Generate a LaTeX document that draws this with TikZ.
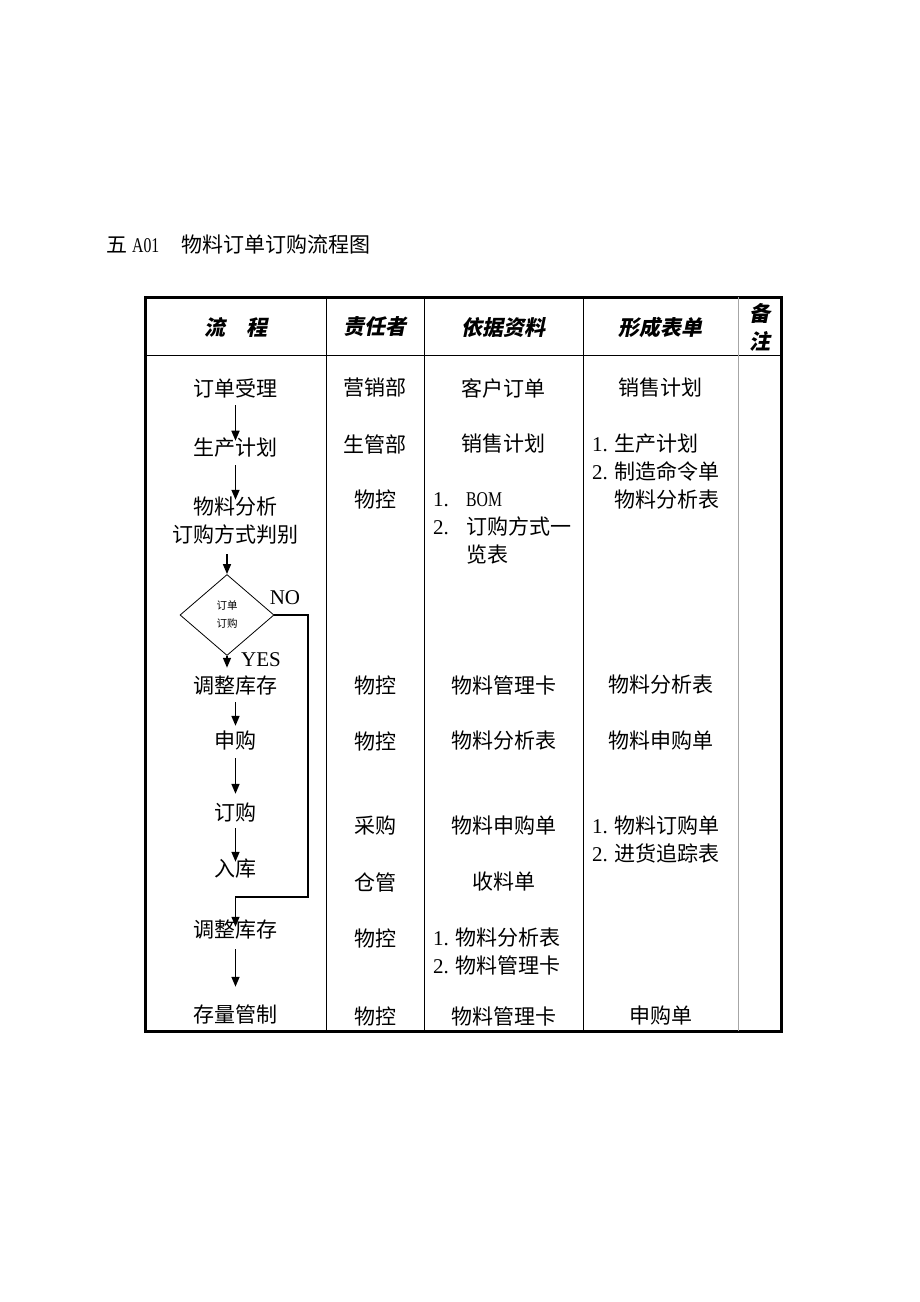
\documentclass[tikz,border=0pt]{standalone}
\usepackage{fontspec}
\setmainfont{Noto Sans CJK SC}
\newfontfamily\lat{Liberation Serif}
\newfontfamily\latn[FakeStretch=0.75]{Liberation Serif}
\newfontfamily\hdfont[FakeSlant=0.2]{Noto Sans CJK SC}
\usetikzlibrary{arrows.meta,shapes.geometric}

\begin{document}
\begin{tikzpicture}[x=1pt, y=-1pt, font=\fontsize{21}{28}\selectfont,
    flow/.style={-{Triangle[width=8pt,length=10pt]}, line width=1.6pt},
    gridline/.style={line width=0.9pt},
    frame/.style={line width=3pt},
    head/.style={font=\fontsize{21}{28}\hdfont\bfseries},
    lst/.style={anchor=west, align=left, inner sep=0pt}]

      % page size (pixels of the reference)
      \useasboundingbox (0,0) rectangle (920,1302);

      % column centres
      \def\cA{235.5}
      \def\cB{375}
      \def\cC{503.5}
      \def\cD{660.5}
      \def\cE{759.5}

      % title
      \node[anchor=west, inner sep=0pt] (title) at (106,245)
        {五\hspace{5pt}{\latn A01}\hspace{22pt}物料订单订购流程图};

      % table outline and rules
      \draw[frame] (145,297) rectangle (781,1031);
      \draw[gridline] (145,355) -- (781,355);
      \foreach \x in {326,424,583}
        \draw[gridline] (\x,297) -- (\x,1031);
      \draw[gridline, gray!70] (738,297) -- (738,1031);

      % header row
      \node[head] (h1) at (\cA,327) {流\hspace{21pt}程};
      \node[head] (h2) at (\cB,327) {责任者};
      \node[head] (h3) at (\cC,327) {依据资料};
      \node[head] (h4) at (\cD,327) {形成表单};
      \node[head, align=center] (h5) at (\cE,327) {备\\注};

      % flow steps
      \node (s1) at (\cA,388) {订单受理};
      \node (s2) at (\cA,448) {生产计划};
      \node[align=center] (s3) at (\cA,521) {物料分析\\订购方式判别};
      \node[diamond, draw, line width=0.8pt, aspect=1.16, minimum width=94pt,
            minimum height=81pt, inner sep=0pt, align=center,
            font=\fontsize{10.5}{18}\selectfont] (dec) at (227,615) {订单\\订购};
      \node (no) at (285,598) {\lat NO};
      \node (yes) at (261,660) {\lat YES};
      \node (s4) at (\cA,686) {调整库存};
      \node (s5) at (\cA,741) {申购};
      \node (s6) at (\cA,813) {订购};
      \node (s7) at (\cA,869) {入库};
      \node (s8) at (\cA,930) {调整库存};
      \node (s9) at (\cA,1014) {存量管制};

      % flow arrows
      \draw[flow, shorten <=4pt, shorten >=-6pt] (s1) -- (s2);
      \draw[flow, shorten <=4pt, shorten >=-6pt] (s2) -- (s3);
      \draw[flow, shorten <=6pt] (s3.south -| dec.north) -- (dec.north);
      \draw[flow, shorten >=5pt] (dec.south) -- (dec.south |- s4.north);
      \draw[flow, shorten <=3pt, shorten >=2pt] (s4) -- (s5);
      \draw[flow, shorten <=4pt, shorten >=6pt] (s5) -- (s6);
      \draw[flow, shorten <=2pt, shorten >=-6pt] (s6) -- (s7);
      \draw[flow, shorten <=6pt, shorten >=14pt] (s8) -- (s9);

      % NO branch goes round to the second stock adjustment
      \coordinate (back) at (308,897);
      \draw[flow, line width=1.2pt, shorten >=-10pt] (dec.east) -| (back) -| (s8);

      % responsible
      \node (p1) at (\cB,388) {营销部};
      \node (p2) at (\cB,444) {生管部};
      \node (p3) at (\cB,500) {物控};
      \node (p4) at (\cB,685) {物控};
      \node (p5) at (\cB,741) {物控};
      \node (p6) at (\cB,826) {采购};
      \node (p7) at (\cB,882) {仓管};
      \node (p8) at (\cB,938) {物控};
      \node (p9) at (\cB,1016) {物控};

      % source documents
      \node (d1) at (\cC,388) {客户订单};
      \node (d2) at (\cC,444) {销售计划};
      \node[lst] (d3) at (433,528.5)
        {\makebox[33pt][l]{\lat 1.}{\latn BOM}\\
         \makebox[33pt][l]{\lat 2.}订购方式一\\
         \hspace*{33pt}览表};
      \node (d4) at (\cC,685) {物料管理卡};
      \node (d5) at (\cC,741) {物料分析表};
      \node (d6) at (\cC,826) {物料申购单};
      \node (d7) at (\cC,882) {收料单};
      \node[lst] (d8) at (433,952)
        {\makebox[22pt][l]{\lat 1.}物料分析表\\
         \makebox[22pt][l]{\lat 2.}物料管理卡};
      \node (d9) at (\cC,1016) {物料管理卡};

      % forms produced
      \node (f1) at (\cD,388) {销售计划};
      \node[lst] (f2) at (592,472)
        {\makebox[22pt][l]{\lat 1.}生产计划\\
         \makebox[22pt][l]{\lat 2.}制造命令单\\
         \hspace*{22pt}物料分析表};
      \node (f4) at (\cD,685) {物料分析表};
      \node (f5) at (\cD,741) {物料申购单};
      \node[lst] (f6) at (592,839.5)
        {\makebox[22pt][l]{\lat 1.}物料订购单\\
         \makebox[22pt][l]{\lat 2.}进货追踪表};
      \node (f9) at (\cD,1016) {申购单};

    \end{tikzpicture}
\end{document}
